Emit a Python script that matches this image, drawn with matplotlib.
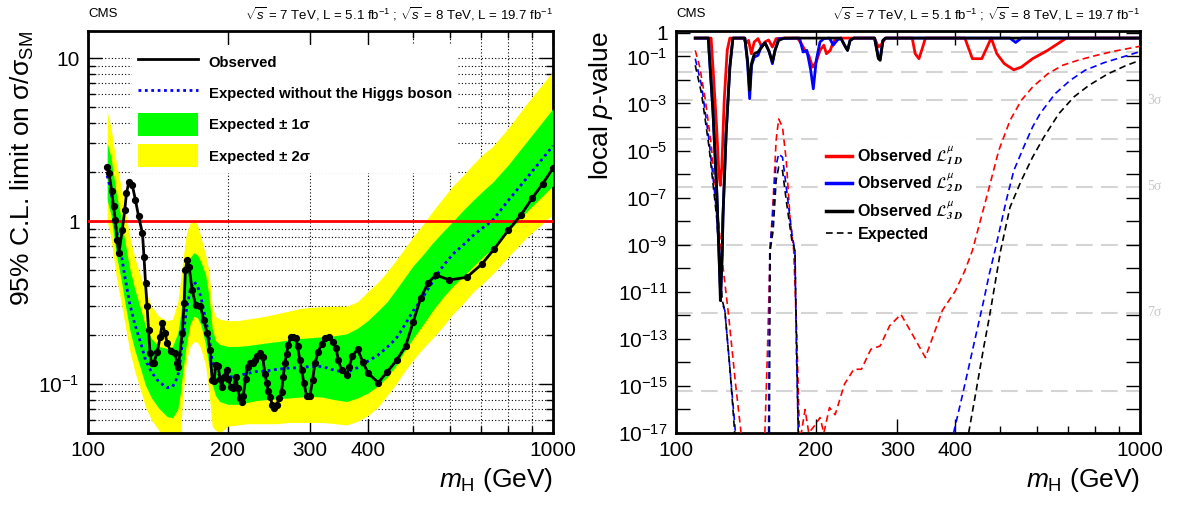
import numpy as np
import matplotlib
matplotlib.use('Agg')
import matplotlib.pyplot as plt
import matplotlib.transforms as mtransforms
from matplotlib.lines import Line2D
from matplotlib.patches import Patch
from matplotlib.ticker import FixedLocator, FixedFormatter, LogLocator, NullFormatter, NullLocator

plt.rcParams['font.family'] = ['Liberation Sans', 'DejaVu Sans']
plt.rcParams['mathtext.fontset'] = 'custom'
plt.rcParams['mathtext.rm'] = 'Liberation Sans'
plt.rcParams['mathtext.it'] = 'Liberation Sans:italic'
plt.rcParams['mathtext.bf'] = 'Liberation Sans:bold'
plt.rcParams['mathtext.sf'] = 'Liberation Sans'
plt.rcParams['axes.linewidth'] = 2

# ---- left panel: 95% CL limit ----
mass_exp = [110, 112, 115, 118, 120, 123, 126, 130, 133, 137, 142, 148, 152, 156, 158, 160, 163, 166, 169, 172,
            175, 179, 182, 185, 188, 192, 200, 210, 220, 230, 240, 255, 270, 285, 300, 320, 340, 360, 380, 400,
            420, 440, 460, 480, 500, 525, 550, 580, 610, 640, 675, 710, 740, 800, 880, 1000]
exp_median = [1.9, 1.55, 0.9, 0.62, 0.46, 0.31, 0.235, 0.177, 0.14, 0.118, 0.103, 0.095, 0.096, 0.111, 0.14, 0.19,
              0.29, 0.38, 0.425, 0.40, 0.34, 0.25, 0.20, 0.14, 0.12, 0.113, 0.110, 0.112, 0.116, 0.119, 0.120,
              0.123, 0.125, 0.126, 0.128, 0.128, 0.121, 0.118, 0.126, 0.138, 0.150, 0.168, 0.19, 0.23, 0.28, 0.34,
              0.42, 0.53, 0.63, 0.71, 0.82, 0.92, 1.0, 1.33, 1.85, 2.9]
exp_1s_lo = [1.35, 1.1, 0.63, 0.43, 0.32, 0.215, 0.163, 0.122, 0.098, 0.082, 0.071, 0.063, 0.062, 0.07, 0.088, 0.12,
             0.18, 0.235, 0.26, 0.255, 0.23, 0.175, 0.13, 0.10, 0.085, 0.078, 0.075, 0.075, 0.077, 0.079, 0.08,
             0.081, 0.082, 0.083, 0.084, 0.083, 0.080, 0.078, 0.082, 0.088, 0.097, 0.11, 0.13, 0.16, 0.19, 0.23,
             0.28, 0.34, 0.40, 0.455, 0.53, 0.61, 0.67, 0.86, 1.15, 1.65]
exp_1s_hi = [3.0, 2.5, 1.5, 1.02, 0.76, 0.51, 0.385, 0.285, 0.225, 0.19, 0.17, 0.165, 0.17, 0.205, 0.26, 0.35,
             0.5, 0.6, 0.64, 0.62, 0.56, 0.47, 0.35, 0.22, 0.185, 0.175, 0.17, 0.17, 0.172, 0.175, 0.178, 0.182,
             0.186, 0.19, 0.192, 0.195, 0.198, 0.203, 0.22, 0.245, 0.28, 0.32, 0.38, 0.45, 0.53, 0.62, 0.73, 0.86,
             1.0, 1.16, 1.35, 1.55, 1.72, 2.2, 3.1, 4.9]
exp_2s_lo = [1.0, 0.8, 0.46, 0.31, 0.235, 0.16, 0.12, 0.09, 0.072, 0.06, 0.052, 0.046, 0.045, 0.045, 0.048, 0.085,
             0.14, 0.172, 0.182, 0.18, 0.165, 0.13, 0.09, 0.055, 0.052, 0.05, 0.055, 0.056, 0.057, 0.057, 0.057,
             0.057, 0.058, 0.058, 0.058, 0.058, 0.057, 0.056, 0.059, 0.064, 0.072, 0.085, 0.10, 0.12, 0.14, 0.165,
             0.19, 0.225, 0.27, 0.31, 0.37, 0.42, 0.47, 0.6, 0.8, 1.1]
exp_2s_hi = [4.7, 3.8, 2.3, 1.6, 1.2, 0.8, 0.6, 0.45, 0.37, 0.3, 0.26, 0.245, 0.25, 0.32, 0.42, 0.58, 0.85, 0.98,
             1.02, 0.95, 0.8, 0.62, 0.5, 0.3, 0.26, 0.25, 0.245, 0.245, 0.25, 0.255, 0.26, 0.27, 0.28, 0.29, 0.295,
             0.298, 0.30, 0.30, 0.32, 0.37, 0.42, 0.49, 0.575, 0.68, 0.80, 0.95, 1.14, 1.38, 1.65, 1.9, 2.25, 2.6,
             2.85, 3.7, 5.3, 8.3]

mass_obs = [110, 111, 112.5, 113.5, 114.5, 115.5, 116.5, 118.5, 120, 121, 122.5, 124.5, 126.5, 128.5, 131, 132, 133,
            134, 135, 136, 137, 138.5, 141, 143, 144.5, 146.5, 148, 150.5, 154, 155.5, 156.5, 159.5, 161, 162,
            163.5, 165, 167.5, 170.5, 174.5, 177.5, 180.5, 183, 185, 186.6, 188.4, 190.6, 192.2, 193.9, 196.1,
            198.7, 200.4, 202.7, 205.4, 208.1, 209.8, 212.3, 214, 215.8, 218.3, 220.4, 223, 226, 228.6, 231.3,
            234.4, 237.5, 240.3, 242.3, 244.3, 246.3, 249.2, 251.2, 254.5, 257.9, 260.9, 263, 265.2, 267.4, 269.6,
            272.8, 276.4, 280.1, 282.4, 285.6, 288.1, 291.4, 295.3, 300.2, 304.2, 307.7, 312.8, 318, 323.3, 330.4,
            335.9, 341.5, 345.5, 351.2, 359.9, 364.8, 370.2, 380.2, 389.8, 400.7, 421.1, 440.4, 461.2, 482.2,
            500.7, 519.3, 539.4, 560.2, 598.6, 652.4, 702.5, 747.9, 802, 853, 902, 951, 1000]
obs_limit = [2.14, 1.97, 1.52, 1.23, 1.02, 0.77, 0.635, 0.88, 1.17, 1.48, 1.75, 1.67, 1.35, 1.07, 0.84, 0.6, 0.415,
             0.30, 0.215, 0.154, 0.134, 0.134, 0.158, 0.195, 0.236, 0.205, 0.178, 0.16, 0.154, 0.134, 0.128, 0.205,
             0.313, 0.50, 0.577, 0.525, 0.378, 0.306, 0.30, 0.247, 0.205, 0.162, 0.106, 0.104, 0.131, 0.129, 0.108,
             0.096, 0.111, 0.122, 0.108, 0.096, 0.094, 0.111, 0.094, 0.0816, 0.0778, 0.0848, 0.108, 0.128, 0.134,
             0.134, 0.140, 0.149, 0.154, 0.147, 0.115, 0.101, 0.0906, 0.0836, 0.0743, 0.0709, 0.0743, 0.0816,
             0.0897, 0.111, 0.134, 0.153, 0.1735, 0.193, 0.195, 0.191, 0.170, 0.140, 0.122, 0.101, 0.0848, 0.0848,
             0.106, 0.134, 0.158, 0.175, 0.191, 0.193, 0.182, 0.167, 0.140, 0.121, 0.1135, 0.128, 0.1485, 0.163,
             0.137, 0.116, 0.102, 0.119, 0.140, 0.171, 0.2415, 0.336, 0.419, 0.467, 0.435, 0.452, 0.543, 0.675,
             0.88, 1.09, 1.38, 1.70, 2.11]

# ---- right panel: local p-values ----
mass_obs_1d = [110, 119.0, 120.1, 122.3, 123.7, 124.6, 125.5, 127.0, 128.9, 130.6, 139.9, 141.5, 143.3, 145.3,
               147.4, 150.2, 153.0, 155.4, 158.3, 161.3, 164.3, 171.2, 182.7, 186.2, 189.7, 193.2, 196.9, 200.5,
               204.3, 208.2, 210.9, 214.9, 218.2, 222.3, 226.5, 267.8, 272.9, 278.0, 282.2, 322.8, 327.6, 333.8,
               340.1, 344.6, 419.2, 435.1, 455.9, 477.7, 491.2, 509.9, 534.3, 554.6, 586.5, 631.9, 693.7, 1000]
p_obs_1d = [0.6, 0.6, 0.035, 9.9e-5, 1e-6, 3.3e-7, 2e-6, 1.35e-3, 0.18, 0.6, 0.6, 0.35, 0.48, 0.13, 0.41, 0.57,
            0.25, 0.41, 0.5, 0.25, 0.57, 0.6, 0.6, 0.35, 0.18, 0.111, 0.035, 0.058, 0.18, 0.30, 0.13, 0.18, 0.41,
            0.57, 0.6, 0.6, 0.25, 0.35, 0.6, 0.6, 0.13, 0.08, 0.25, 0.6, 0.6, 0.08, 0.08, 0.6, 0.13, 0.049, 0.027,
            0.035, 0.08, 0.18, 0.6, 0.6]
mass_obs_2d = [110, 117.4, 117.8, 120.1, 122.3, 123.7, 124.8, 125.8, 126.2, 128.2, 130.6, 132.6, 140.7, 142.6,
               144.1, 145.4, 147.4, 150.2, 153.0, 155.9, 158.9, 161.3, 163.4, 166.4, 184.5, 187.9, 191.4, 195.0,
               197.6, 200.5, 204.3, 208.2, 214.1, 218.2, 222.3, 226.5, 230.7, 234.2, 237.2, 241.6, 267.8, 272.9,
               275.4, 279.1, 283.3, 524.4, 539.4, 554.6, 1000]
p_obs_2d = [0.6, 0.6, 0.17, 4.5e-4, 2.5e-7, 5e-10, 6e-12, 6e-10, 1.5e-8, 5e-5, 0.035, 0.6, 0.6, 0.05, 1.6e-3, 0.04,
            0.094, 0.111, 0.30, 0.35, 0.154, 0.049, 0.18, 0.57, 0.6, 0.154, 0.18, 0.027, 4.2e-3, 0.068, 0.41, 0.57,
            0.6, 0.30, 0.48, 0.6, 0.30, 0.18, 0.48, 0.6, 0.6, 0.094, 0.08, 0.48, 0.6, 0.6, 0.39, 0.6, 0.6]
mass_obs_3d = [110, 117.4, 117.8, 120.1, 122.3, 123.7, 124.6, 125.8, 126.2, 128.2, 130.6, 132.6, 140.7, 142.6,
               144.1, 145.4, 147.4, 150.2, 153.0, 155.4, 158.3, 161.3, 163.4, 166.4, 171.2, 226.5, 230.7, 234.2,
               237.2, 241.6, 267.8, 272.9, 275.4, 279.1, 283.3, 1000]
p_obs_3d = [0.6, 0.6, 0.18, 5.1e-4, 2.8e-7, 5.6e-10, 4.2e-12, 5.6e-10, 1.5e-8, 5.1e-5, 0.035, 0.6, 0.6, 0.068,
            3.6e-3, 0.049, 0.13, 0.154, 0.25, 0.38, 0.18, 0.058, 0.18, 0.48, 0.6, 0.6, 0.30, 0.18, 0.48, 0.6, 0.6,
            0.08, 0.068, 0.48, 0.6, 0.6]

# nan = expected p-value far below the plotted range
mass_exp_1d = [110, 112.5, 115.7, 119.0, 122.3, 125.1, 129.8, 134.3, 138.1, 147, 155.4, 157.4, 159.5, 161.9, 164.3,
               166.4, 169.6, 172.8, 176.0, 179.3, 182.0, 184.5, 186.2, 189.7, 193.2, 198.7, 204.3, 208.2, 214.1,
               220.2, 230.7, 241.6, 250.9, 262.9, 275.4, 288.6, 305.2, 322.8, 344.6, 374.8, 400.0, 419.2, 435.1,
               468.8, 495.9, 524.4, 554.6, 586.5, 631.9, 680.9, 733.7, 805.4, 884.2, 1000]
p_exp_1d = [0.18, 0.035, 1.35e-3, 1.9e-5, 7.5e-8, 5.5e-10, 1e-12, 1.3e-15, 1e-17, np.nan, 1e-17, 3.1e-14, 5.6e-10,
            7.5e-8, 2.7e-5, 2.2e-4, 1e-4, 3.8e-6, 1.5e-8, 5.6e-10, 1.6e-13, 1e-17, 1e-17, 1e-16, 1e-17, 2e-17,
            4.5e-17, 1e-17, 1.2e-16, 6e-17, 1.2e-15, 5.1e-15, 5.1e-15, 3.6e-14, 5e-14, 3.6e-13, 1.1e-12, 1.6e-13,
            1.6e-14, 1.6e-12, 1.1e-11, 7.9e-11, 5.6e-10, 1.4e-7, 1e-5, 1.9e-4, 1.35e-3, 5e-3, 0.018, 0.042, 0.068,
            0.111, 0.17, 0.27]
mass_exp_2d = [110, 113.5, 117.8, 121.2, 123.5, 125.1, 127.4, 130.6, 134.3, 146, 158.3, 159.2, 161.3, 164.0, 166.4,
               169.6, 172.8, 177.7, 180.4, 181.7, 183.4, 290, 396.3, 411.4, 427.1, 443.3, 460.2, 473.2, 486.7,
               514.7, 534.3, 565.0, 586.5, 608.8, 656.0, 706.8, 761.6, 836.0, 917.8, 1000]
p_exp_2d = [0.08, 5.9e-3, 2.7e-5, 1.4e-7, 2.9e-9, 4.2e-12, 1.6e-12, 6e-15, 1e-17, np.nan, 1e-17, 5.6e-10, 1.1e-8,
            2e-6, 7.2e-6, 5.2e-6, 2.8e-7, 2.9e-9, 5.6e-10, 3.1e-14, 1e-17, np.nan, 1e-17, 2.3e-16, 6e-15, 1.6e-13,
            4.2e-12, 5.7e-11, 5.6e-10, 7.5e-8, 1.4e-6, 1.9e-5, 1e-4, 3.7e-4, 2.6e-3, 9.6e-3, 0.026, 0.054, 0.095,
            0.16]
mass_exp_3d = [110, 113.5, 117.8, 122.3, 125.8, 127.4, 130.6, 133.8, 146, 158.9, 159.5, 161.9, 164.3, 166.4, 169.6,
               172.8, 177.7, 180.4, 182.0, 183.4, 300, 427.1, 443.3, 460.2, 473.2, 486.7, 500.5, 524.4, 554.6,
               586.5, 620.3, 668.3, 720.1, 775.9, 851.8, 935.1, 1000]
p_exp_3d = [0.042, 2.6e-3, 1.4e-5, 1.5e-8, 4.2e-12, 1.6e-12, 6e-15, 1e-17, np.nan, 1e-17, 5.6e-10, 4e-9, 5.3e-7,
            2e-6, 1.4e-6, 7.5e-8, 1.5e-9, 5.6e-10, 3.1e-14, 1e-17, np.nan, 1e-17, 6.2e-16, 4.3e-14, 8.1e-13,
            2.1e-11, 5.6e-10, 3.9e-8, 5.3e-7, 5.2e-6, 3.7e-5, 3.7e-4, 1.9e-3, 5.9e-3, 0.018, 0.042, 0.068]

sigma_n = [1, 2, 3, 4, 5, 6, 7, 8]
sigma_p = [1.587e-1, 2.275e-2, 1.350e-3, 3.167e-5, 2.867e-7, 9.866e-10, 1.280e-12, 6.221e-16]
sigma_labelled = [3, 5, 7]

x_ticks = [100, 200, 300, 400, 1000]
lumi = r'$\sqrt{s}$ = 7 TeV, L = 5.1 fb$^{-1}$ ; $\sqrt{s}$ = 8 TeV, L = 19.7 fb$^{-1}$'


def style_x(ax):
    ax.set_xscale('log')
    ax.set_yscale('log')
    ax.set_xlim(100, 1000)
    ax.xaxis.set_major_locator(FixedLocator(x_ticks))
    ax.xaxis.set_major_formatter(FixedFormatter([str(t) for t in x_ticks]))
    ax.xaxis.set_minor_locator(LogLocator(base=10, subs=np.arange(2, 10)))
    ax.xaxis.set_minor_formatter(NullFormatter())
    ax.tick_params(which='both', direction='in', top=True, right=True, labelsize=15, width=1)
    ax.tick_params(which='major', length=10, pad=6)
    ax.tick_params(which='minor', length=5)
    ax.set_xlabel(r'$m_{\mathrm{H}}$ (GeV)', fontsize=19, loc='right', labelpad=4)


fig = plt.figure(figsize=(11.79, 5.05), dpi=100)

# left
ax1 = fig.add_axes([0.0746, 0.1426, 0.3944, 0.796])
ax1.fill_between(mass_exp, exp_2s_lo, exp_2s_hi, color='#ffff00', lw=0, zorder=2)
ax1.fill_between(mass_exp, exp_1s_lo, exp_1s_hi, color='#00ff00', lw=0, zorder=3)
ax1.plot(mass_exp, exp_median, color='blue', lw=2, ls=(0, (1, 1.3)), zorder=4)
ax1.axhline(1, color='red', lw=2, zorder=5)
ax1.plot(mass_obs, obs_limit, color='black', lw=2, marker='o', ms=4.2, zorder=6)
style_x(ax1)
ax1.set_ylim(0.05, 14.7)
ax1.yaxis.set_major_locator(FixedLocator([0.1, 1, 10]))
ax1.yaxis.set_major_formatter(FixedFormatter(['$10^{-1}$', '1', '10']))
ax1.yaxis.set_minor_locator(LogLocator(base=10, subs=np.arange(2, 10)))
ax1.yaxis.set_minor_formatter(NullFormatter())
ax1.set_axisbelow(True)
ax1.grid(which='both', color='black', lw=0.8, ls=(0, (1, 2)))
ax1.set_ylabel(r'95% C.L. limit on σ/σ$_{\mathrm{SM}}$', fontsize=19, loc='top', labelpad=2)

h1 = [Line2D([], [], color='black', lw=2),
      Line2D([], [], color='blue', lw=2, ls=(0, (1, 1.3))),
      Patch(facecolor='#00ff00', edgecolor='none'),
      Patch(facecolor='#ffff00', edgecolor='none')]
l1 = ['Observed', 'Expected without the Higgs boson', 'Expected ± 1σ', 'Expected ± 2σ']
leg1 = ax1.legend(h1, l1, loc='upper left', bbox_to_anchor=(0.095, 0.965), borderaxespad=0,
                  prop={'weight': 'bold', 'size': 10.7}, handlelength=4.0, handleheight=2.0,
                  handletextpad=0.75, labelspacing=0.55, borderpad=0.4, fancybox=False,
                  framealpha=1, facecolor='white', edgecolor='none')
leg1.set_zorder(10)

# right
ax2 = fig.add_axes([0.5734, 0.1426, 0.3936, 0.796])
for n, p in zip(sigma_n, sigma_p):
    ax2.axhline(p, color='#d4d4d4', lw=1.5, ls=(0, (8, 4)), zorder=1)
trans = mtransforms.blended_transform_factory(ax2.transAxes, ax2.transData)
for n, p in zip(sigma_n, sigma_p):
    if n in sigma_labelled:
        ax2.text(1.015, p, f'{n}σ', transform=trans, color='#c8c8c8', fontsize=10,
                 family='Liberation Serif', va='center', ha='left')

ax2.plot(mass_exp_1d, p_exp_1d, color='red', lw=1.2, ls=(0, (4, 2.5)), zorder=3)
ax2.plot(mass_exp_2d, p_exp_2d, color='blue', lw=1.2, ls=(0, (4, 2.5)), zorder=3)
ax2.plot(mass_exp_3d, p_exp_3d, color='black', lw=1.2, ls=(0, (4, 2.5)), zorder=3)
ax2.plot(mass_obs_1d, p_obs_1d, color='red', lw=2, zorder=4)
ax2.plot(mass_obs_2d, p_obs_2d, color='blue', lw=2, zorder=5)
ax2.plot(mass_obs_3d, p_obs_3d, color='black', lw=2, zorder=6)
style_x(ax2)
ax2.set_ylim(1e-17, 1.2)
decades = list(range(-17, 1))
ax2.yaxis.set_major_locator(FixedLocator([10.0 ** k for k in decades]))
ax2.yaxis.set_major_formatter(FixedFormatter(
    ['1' if k == 0 else ('$10^{%d}$' % k if k % 2 else '') for k in decades]))
ax2.yaxis.set_minor_locator(NullLocator())
ax2.set_ylabel(r'local $p$-value', fontsize=19, loc='top', labelpad=2)

h2 = [Line2D([], [], color='red', lw=2.5), Line2D([], [], color='blue', lw=2.5),
      Line2D([], [], color='black', lw=2.5), Line2D([], [], color='black', lw=1.2, ls=(0, (4, 2.5)))]
l2 = [r'Observed $\mathcal{L}^{\mu}_{\mathbfit{1D}}$', r'Observed $\mathcal{L}^{\mu}_{\mathbfit{2D}}$',
      r'Observed $\mathcal{L}^{\mu}_{\mathbfit{3D}}$', 'Expected']
leg2 = ax2.legend(h2, l2, loc='upper left', bbox_to_anchor=(0.31, 0.735), borderaxespad=0,
                  prop={'weight': 'bold', 'size': 11.5}, handlelength=1.6, handletextpad=0.35,
                  labelspacing=0.3, borderpad=0.4, fancybox=False, framealpha=1,
                  facecolor='white', edgecolor='none')
leg2.set_zorder(10)
for t in leg2.get_texts():
    t.set_math_fontfamily('stixsans')

# headers
for x0, x1 in [(0.0746, 0.469), (0.5734, 0.967)]:
    fig.text(x0, 0.972, 'CMS', fontsize=9.5, ha='left', va='center')
    fig.text(x1, 0.972, lumi, fontsize=9.5, ha='right', va='center')

fig.savefig('out.png', dpi=100)
